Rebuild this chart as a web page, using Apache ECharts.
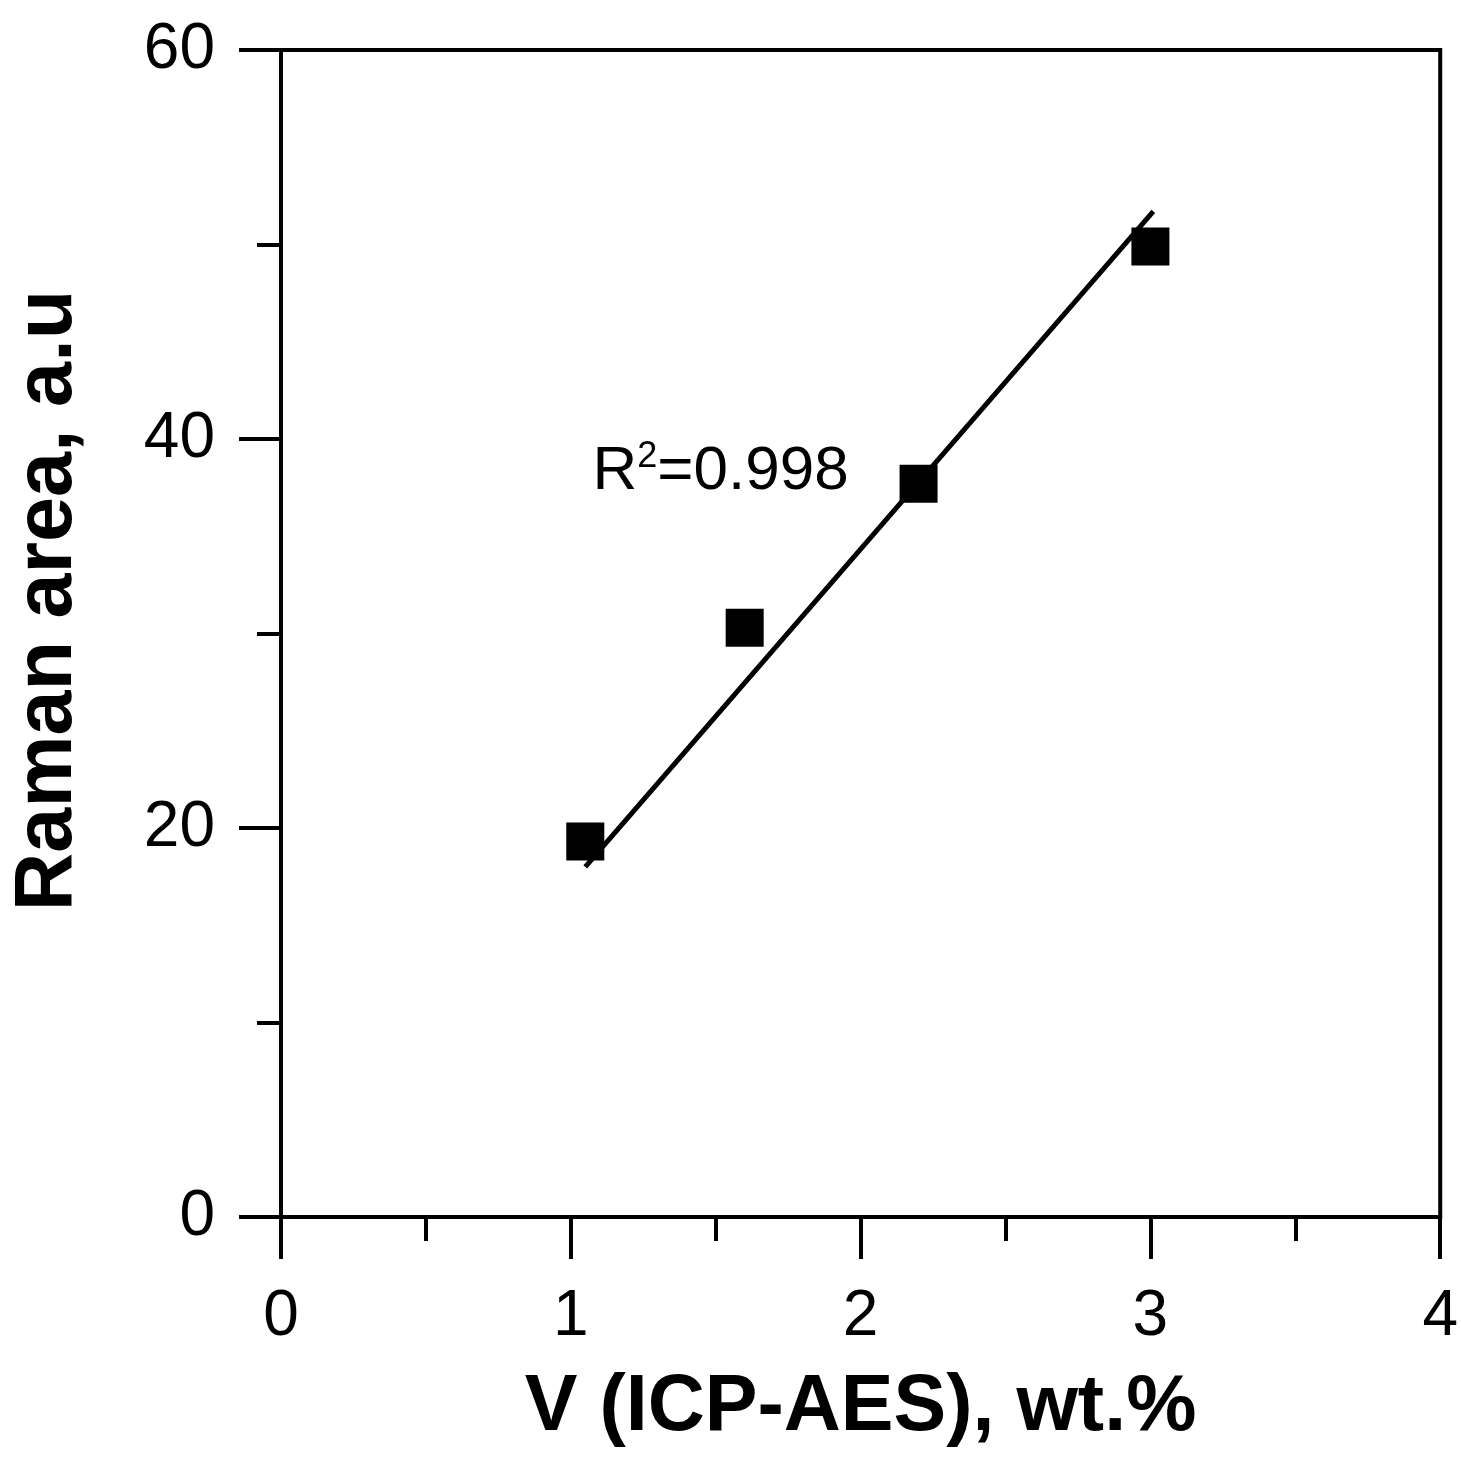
<!DOCTYPE html>
<html>
<head>
<meta charset="utf-8">
<script src="https://cdn.jsdelivr.net/npm/echarts@6/dist/echarts.min.js"></script>
<style>
  html, body { margin: 0; padding: 0; background: #fff; }
  #chart { width: 1461px; height: 1459px; }
</style>
</head>
<body>
<div id="chart"></div>
<script>
// measured points (V by ICP-AES vs Raman band area)
var vContent = [1.05, 1.60, 2.20, 3.00];
var ramanArea = [19.3, 30.3, 37.7, 49.9];

// linear fit as drawn in the figure (end points)
var fitX = [1.05, 3.01];
var fitY = [18.0, 51.7];

var xTicks = [0, 1, 2, 3, 4];
var yTicks = [0, 20, 40, 60];
var fitLabel = '0.998';

var FONT = '"Liberation Sans", Arial, sans-serif';

var chart = echarts.init(document.getElementById('chart'));

var points = vContent.map(function (v, i) { return [v, ramanArea[i]]; });
var fitLine = fitX.map(function (v, i) { return [v, fitY[i]]; });

var option = {
  backgroundColor: '#fff',
  animation: false,
  grid: {
    left: 279, right: 15, top: 50, bottom: 242,
    show: true, borderColor: '#000', borderWidth: 4, backgroundColor: 'transparent'
  },
  xAxis: {
    type: 'value',
    min: xTicks[0], max: xTicks[xTicks.length - 1], interval: 1,
    name: 'V (ICP-AES), wt.%',
    nameLocation: 'middle',
    nameGap: 152,
    nameTextStyle: { fontFamily: FONT, fontWeight: 'bold', fontSize: 79, color: '#000' },
    axisLine: { show: true, lineStyle: { color: '#000', width: 4 } },
    axisTick: { show: true, inside: false, length: 42, lineStyle: { color: '#000', width: 4 } },
    minorTick: { show: true, splitNumber: 2, length: 24, lineStyle: { color: '#000', width: 4 } },
    splitLine: { show: false },
    axisLabel: { margin: 68, fontFamily: FONT, fontSize: 64, color: '#000' }
  },
  yAxis: {
    type: 'value',
    min: yTicks[0], max: yTicks[yTicks.length - 1], interval: 20,
    name: 'Raman area, a.u',
    nameLocation: 'middle',
    nameGap: 192,
    nameTextStyle: {
      fontFamily: FONT, fontWeight: 'bold', fontSize: 81, color: '#000',
      padding: [0, 0, 0, 66]
    },
    axisLine: { show: true, lineStyle: { color: '#000', width: 4 } },
    axisTick: { show: true, inside: false, length: 42, lineStyle: { color: '#000', width: 4 } },
    minorTick: { show: true, splitNumber: 2, length: 24, lineStyle: { color: '#000', width: 4 } },
    splitLine: { show: false },
    axisLabel: { margin: 66, fontFamily: FONT, fontSize: 64, color: '#000' }
  },
  series: [
    {
      type: 'line',
      data: fitLine,
      symbol: 'none',
      lineStyle: { color: '#000', width: 5 },
      z: 2
    },
    {
      type: 'scatter',
      data: points,
      symbol: 'rect',
      symbolSize: 38,
      itemStyle: { color: '#000', opacity: 1 },
      z: 3
    }
  ]
};

chart.setOption(option);

// R^2 annotation anchored in data space
var anchor = chart.convertToPixel({ gridIndex: 0 }, [1.075, 37.0]);
chart.setOption({
  graphic: [{
    type: 'text',
    left: anchor[0],
    top: anchor[1] - 58,
    style: {
      text: '{a|R}{b|2}{a|=' + fitLabel + '}',
      rich: {
        a: { fontFamily: FONT, fontSize: 62, fill: '#000', lineHeight: 64, verticalAlign: 'bottom' },
        b: { fontFamily: FONT, fontSize: 36, fill: '#000', lineHeight: 64, verticalAlign: 'top', padding: [0, 0, 0, 0] }
      }
    }
  }]
});
</script>
</body>
</html>
